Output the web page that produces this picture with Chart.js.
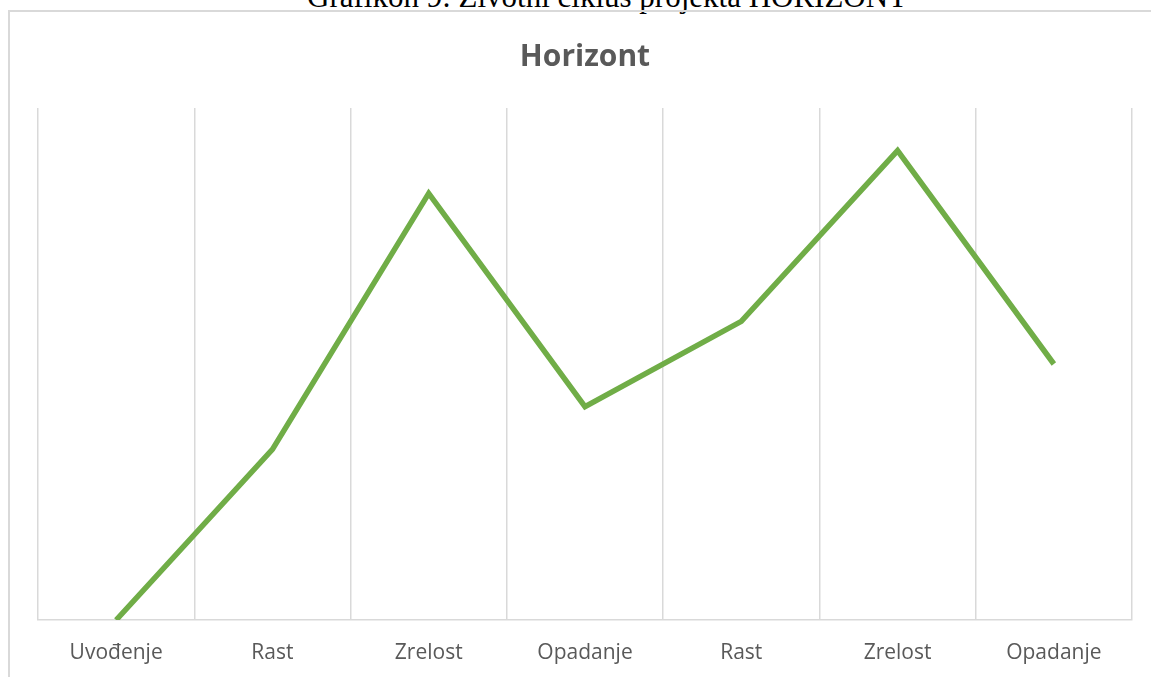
<!DOCTYPE html>
<html>
<head>
<meta charset="utf-8">
<script src="https://cdn.jsdelivr.net/npm/chart.js@4"></script>
<style>
    html, body { margin: 0; padding: 0; background: #fff; overflow: hidden; }
    #caption {
        position: absolute; left: 307px; top: -19px;
        font: 31px/31px "Liberation Serif", "Times New Roman", serif; color: #000;
        white-space: nowrap;
    }
    #frame {
        position: absolute; left: 8px; top: 10px; width: 1200px; height: 700px;
        border-left: 2px solid #d9d9d9; border-top: 2px solid #d9d9d9;
    }
    #wrap { position: absolute; left: 0; top: 0; width: 1151px; height: 677px; }
</style>
</head>
<body>
<div id="caption">Grafikon 9: Životni ciklus projekta HORIZONT</div>
<div id="frame"></div>
<div id="wrap"><canvas id="chart"></canvas></div>
<script>
const labels = ["Uvođenje", "Rast", "Zrelost", "Opadanje", "Rast", "Zrelost", "Opadanje"];
const values = [0, 4, 10, 5, 7, 11, 6];
const yMin = 0;
const yMax = 12;

document.addEventListener("DOMContentLoaded", () => {
    const canvas = document.getElementById("chart");

    new Chart(canvas, {
        type: "line",
        data: {
            labels: labels,
            datasets: [{
                label: "Horizont",
                data: values,
                borderColor: "#70AD47",
                backgroundColor: "#70AD47",
                borderWidth: 5.5,
                pointRadius: 0,
                tension: 0,
                fill: false
            }]
        },
        options: {
            responsive: true,
            maintainAspectRatio: false,
            animation: false,
            layout: {
                padding: { left: 38, right: 19, top: 10, bottom: 0 }
            },
            plugins: {
                legend: { display: false },
                tooltip: { enabled: false },
                title: {
                    display: true,
                    text: "Horizont",
                    color: "#595959",
                    font: { family: "'Open Sans', sans-serif", size: 30, weight: "bold", lineHeight: 1.2 },
                    padding: { top: 29, bottom: 33 }
                }
            },
            scales: {
                x: {
                    offset: true,
                    grid: {
                        offset: true,
                        color: "#d9d9d9",
                        lineWidth: 1.5,
                        drawTicks: false
                    },
                    border: { color: "#d9d9d9", width: 1.5 },
                    ticks: {
                        color: "#595959",
                        padding: 20,
                        maxRotation: 0,
                        font: { family: "'Open Sans', sans-serif", size: 21 }
                    },
                    afterFit: (scale) => { scale.height = 57; }
                },
                y: {
                    display: false,
                    min: yMin,
                    max: yMax
                }
            }
        }
    });
});
</script>
</body>
</html>
